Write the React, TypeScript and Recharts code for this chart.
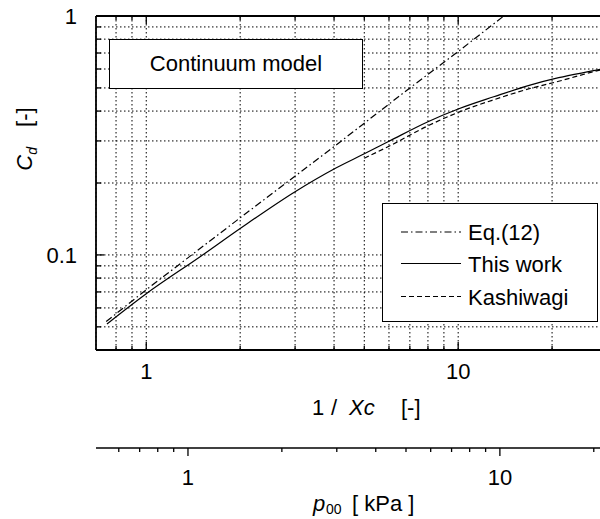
import { LineChart, Line, XAxis, YAxis, CartesianGrid, Legend } from 'recharts';

const FONT = '"Liberation Sans", Arial, Helvetica, sans-serif';
const FS = 22;

// axis ticks (grid positions) and which of them carry a label
const xTicks = [0.8, 0.9, 1, 2, 3, 4, 5, 6, 7, 8, 9, 10, 20];
const xLabeled = [1, 10];
const yTicks = [0.05, 0.06, 0.07, 0.08, 0.09, 0.1, 0.2, 0.3, 0.4, 0.5, 0.6, 0.7, 0.8, 0.9, 1];
const yLabeled = [0.1, 1];
const pTicks = [0.6, 0.7, 0.8, 0.9, 1, 2, 3, 4, 5, 6, 7, 8, 9, 10, 20];
const pLabeled = [1, 10];

const xDomain = [0.69, 30];
const yDomain = [0.04, 1];
const pAtUnit = 0.735; // p00 [kPa] at 1/Xc = 1
const pDomain = [xDomain[0] * pAtUnit, xDomain[1] * pAtUnit];

// Eq.(12)
const eqX = [0.744, 1, 2, 4, 7, 10, 14];
const eqCd = [0.0526, 0.0715, 0.143, 0.284, 0.5, 0.71, 1.0];
// This work
const workX = [0.748, 1, 1.5, 2, 3, 4, 5, 6, 8, 10, 13, 17, 21, 28.5, 30];
const workCd = [0.0514, 0.0688, 0.099, 0.129, 0.184, 0.229, 0.265, 0.299, 0.361, 0.408, 0.459, 0.514, 0.552, 0.598, 0.607];
// Kashiwagi
const kashX = [5, 6, 8, 10, 13, 17, 21, 28.5, 30];
const kashCd = [0.254, 0.285, 0.347, 0.395, 0.446, 0.497, 0.533, 0.594, 0.603];

const eqData = eqX.map((x, i) => ({ x, cd: eqCd[i] }));
const workData = workX.map((x, i) => ({ x, cd: workCd[i] }));
const kashData = kashX.map((x, i) => ({ x, cd: kashCd[i] }));
// same curve against p00, only so the p00 axis gets a scale (not drawn)
const workDataP = workX.map((x, i) => ({ x: x * pAtUnit, cd: workCd[i] }));

const series = [
  { name: 'Eq.(12)', data: eqData, dash: '7 3 1.5 3', type: 'linear' },
  { name: 'This work', data: workData, dash: undefined, type: 'monotone' },
  { name: 'Kashiwagi', data: kashData, dash: '5 3', type: 'monotone' },
];

const BottomTick = ({ x, y, payload }: any) => {
  const major = xLabeled.includes(payload.value);
  return (
    <g>
      <line x1={x} x2={x} y1={y} y2={y - (major ? 8 : 4)} stroke="#000" strokeWidth={1.3} />
      {major && (
        <text x={x} y={y + 29} textAnchor="middle" fontSize={FS} fontFamily={FONT} fill="#000">
          {payload.value}
        </text>
      )}
    </g>
  );
};

const TopTick = ({ x, y, payload }: any) => {
  const major = xLabeled.includes(payload.value);
  return <line x1={x} x2={x} y1={y} y2={y + (major ? 8 : 4)} stroke="#000" strokeWidth={1.3} />;
};

const LeftTick = ({ x, y, payload }: any) => {
  const major = yLabeled.includes(payload.value);
  return (
    <g>
      <line x1={x} x2={x + (major ? 8 : 5)} y1={y} y2={y} stroke="#000" strokeWidth={1.3} />
      {major && (
        <text x={x - 19} y={y + 8} textAnchor="end" fontSize={FS} fontFamily={FONT} fill="#000">
          {payload.value}
        </text>
      )}
    </g>
  );
};

const PTick = ({ x, y, payload }: any) => {
  const major = pLabeled.includes(payload.value);
  return (
    <g>
      <line x1={x} x2={x} y1={y} y2={y + (major ? 8 : 4)} stroke="#000" strokeWidth={1.3} />
      {major && (
        <text x={x} y={y + 37} textAnchor="middle" fontSize={FS} fontFamily={FONT} fill="#000">
          {payload.value}
        </text>
      )}
    </g>
  );
};

const XTitle = () => (
  <text y={415} fontSize={FS} fontFamily={FONT} fill="#000">
    <tspan x={312}>1</tspan>
    <tspan x={331}>/</tspan>
    <tspan x={349} fontStyle="italic">Xc</tspan>
    <tspan x={401}>[-]</tspan>
  </text>
);

const PTitle = () => (
  <text y={511} fontSize={FS} fontFamily={FONT} fill="#000">
    <tspan x={313} fontStyle="italic">p</tspan>
    <tspan x={326} dy={3} fontSize={14}>00</tspan>
    <tspan x={352} dy={-3}>[ kPa ]</tspan>
  </text>
);

const YTitle = () => (
  <text transform="rotate(-90 32 139)" x={32} y={139} textAnchor="middle" fontSize={FS} fontFamily={FONT} fill="#000">
    <tspan fontStyle="italic">C</tspan>
    <tspan fontStyle="italic" fontSize={14} dy={5}>d</tspan>
    <tspan dx={20} dy={-5}>[-]</tspan>
  </text>
);

const LegendBox = () => (
  <div style={{ width: 216, height: 119, boxSizing: 'border-box', border: '1.5px solid #000', background: '#fff' }}>
    <svg width={213} height={116} style={{ display: 'block' }}>
      {series.map((s, i) => {
        const cy = [28, 59.5, 92.5][i];
        return (
          <g key={s.name}>
            <line x1={18} x2={78} y1={cy} y2={cy} stroke="#000" strokeWidth={1.2} strokeDasharray={s.dash} />
            <text x={85} y={cy + 8} fontSize={FS} fontFamily={FONT} fill="#000">
              {s.name}
            </text>
          </g>
        );
      })}
    </svg>
  </div>
);

export default function App() {
  return (
    <div style={{ position: 'absolute', left: 0, top: 0, width: 600, height: 519, overflow: 'hidden', background: '#fff' }}>
      <LineChart width={620} height={519} margin={{ top: 0, right: 13, bottom: 0, left: 0 }}>
        <CartesianGrid xAxisId="a" yAxisId="y" stroke="#000" strokeDasharray="1.5 2.5" strokeWidth={1} />
        <XAxis
          xAxisId="a"
          dataKey="x"
          type="number"
          scale="log"
          domain={xDomain}
          allowDataOverflow
          ticks={xTicks}
          interval={0}
          tickSize={0}
          tickMargin={0}
          tick={<BottomTick />}
          axisLine={{ stroke: '#000', strokeWidth: 1.8 }}
          tickLine={false}
          height={98}
          label={XTitle}
        />
        <XAxis
          xAxisId="b"
          dataKey="x"
          type="number"
          scale="log"
          domain={pDomain}
          allowDataOverflow
          ticks={pTicks}
          interval={0}
          tickSize={0}
          tickMargin={0}
          tick={<PTick />}
          axisLine={{ stroke: '#000', strokeWidth: 1.5 }}
          tickLine={false}
          height={71}
          label={PTitle}
        />
        <XAxis
          xAxisId="c"
          dataKey="x"
          orientation="top"
          type="number"
          scale="log"
          domain={xDomain}
          allowDataOverflow
          ticks={xTicks}
          interval={0}
          tickSize={0}
          tickMargin={0}
          tick={<TopTick />}
          axisLine={{ stroke: '#000', strokeWidth: 1.8 }}
          tickLine={false}
          height={16}
        />
        <YAxis
          yAxisId="y"
          type="number"
          scale="log"
          domain={yDomain}
          allowDataOverflow
          ticks={yTicks}
          interval={0}
          tickSize={0}
          tickMargin={0}
          tick={<LeftTick />}
          axisLine={{ stroke: '#000', strokeWidth: 1.8 }}
          tickLine={false}
          width={96}
          label={YTitle}
        />
        {series.map((s) => (
          <Line
            key={s.name}
            xAxisId="a"
            yAxisId="y"
            data={s.data}
            dataKey="cd"
            name={s.name}
            type={s.type as any}
            stroke="#000"
            strokeWidth={1.2}
            strokeDasharray={s.dash}
            dot={false}
            activeDot={false}
            isAnimationActive={false}
          />
        ))}
        <Line xAxisId="b" yAxisId="y" data={workDataP} dataKey="cd" stroke="none" legendType="none" dot={false} activeDot={false} isAnimationActive={false} />
        <Line xAxisId="c" yAxisId="y" data={workData} dataKey="cd" stroke="none" legendType="none" dot={false} activeDot={false} isAnimationActive={false} />
        <Legend
          layout="horizontal"
          verticalAlign="middle"
          align="center"
          wrapperStyle={{ left: 382, top: 203, width: 216, height: 119 }}
          content={<LegendBox />}
        />
      </LineChart>
      <div
        style={{
          position: 'absolute',
          left: 109,
          top: 39,
          width: 254,
          height: 50,
          boxSizing: 'border-box',
          border: '1.5px solid #000',
          background: '#fff',
          display: 'flex',
          alignItems: 'center',
          justifyContent: 'center',
          fontFamily: FONT,
          fontSize: FS,
          color: '#000',
        }}
      >
        Continuum model
      </div>
    </div>
  );
}
